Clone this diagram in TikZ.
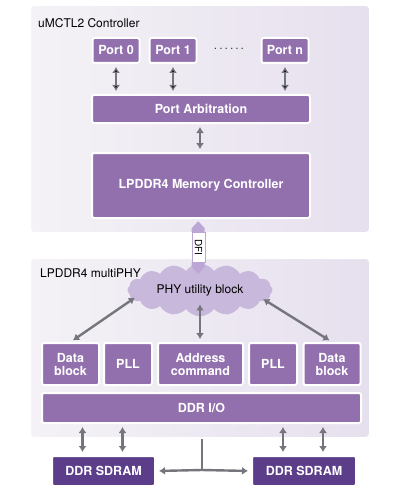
\documentclass[tikz,border=0pt]{standalone}
\usepackage{fontspec}
\setmainfont{TeX Gyre Heros}
\usetikzlibrary{arrows.meta}
\usetikzlibrary{shapes.symbols}
\usetikzlibrary{shadows}
\definecolor{blkpurple}{HTML}{9270AE}
\definecolor{darkpurple}{HTML}{5B3D8A}
\definecolor{panellight}{HTML}{F4F2F6}
\definecolor{paneldark}{HTML}{E6E0EE}
\definecolor{cloudfill}{HTML}{C8B8DC}
\definecolor{arrowgrey}{HTML}{75757D}
\definecolor{dfihead}{HTML}{BBA6D6}

\begin{document}
\begin{tikzpicture}[x=1pt,y=-1pt,
  panel/.style={draw=white,line width=2pt,left color=panellight,right color=paneldark,rounded corners=4pt,
    drop shadow={opacity=0.18,shadow xshift=0.8pt,shadow yshift=-0.8pt}},
  blk/.style={draw=white,line width=2pt,fill=blkpurple,rounded corners=2pt,text=white,
    font=\bfseries\fontsize{12.5}{13}\selectfont,align=center,inner sep=1pt,
    drop shadow={opacity=0.25,shadow xshift=0.8pt,shadow yshift=-0.8pt}},
  lbl/.style={font=\fontsize{12}{14}\selectfont,anchor=west,inner sep=0pt},
  bi/.style={draw=arrowgrey,line width=2.4pt,shorten <=3pt,shorten >=3pt,
    arrows={Latex[length=6pt,width=8pt]-Latex[length=6pt,width=8pt]}},
  one/.style={draw=arrowgrey,line width=2.4pt,shorten >=3pt,
    arrows={-Latex[length=6pt,width=8pt]}}]
  \useasboundingbox[fill=white] (0,0) rectangle (400,500);
  % controller
  \node[panel,minimum width=340,minimum height=228] (ctrl) at (200,119) {};
  \node[lbl] (ctrllbl) at (38,23) {uMCTL2 Controller};
  \node[blk,minimum width=47,minimum height=25] (port0) at (116,50.5) {Port 0};
  \node[blk,minimum width=47,minimum height=25] (port1) at (173,50.5) {Port 1};
  \node[text=black!75,font=\fontsize{12}{12}\selectfont] (dots) at (229,49) {.\,.\,.\,.\,.\,.};
  \node[blk,minimum width=47,minimum height=25] (portn) at (285,50.5) {Port n};
  \node[blk,minimum width=218,minimum height=28] (arb) at (201,109) {Port Arbitration};
  \node[blk,minimum width=218,minimum height=65] (mc) at (201,185.5) {LPDDR4 Memory Controller};
  \path[bi] (port0) edge (port0 |- arb.north)
            (port1) edge (port1 |- arb.north)
            (portn) edge (portn |- arb.north);
  \draw[bi] (arb.south -| 200,0) -- (mc.north -| 200,0);
  % multiPHY
  \node[panel,minimum width=340,minimum height=180] (phybox) at (200,348) {};
  \node[lbl] (phylbl) at (40,273) {LPDDR4 multiPHY};
  \node[cloud,cloud puffs=16,cloud puff arc=110,aspect=3,fill=cloudfill,minimum width=145,minimum height=48,
    inner sep=0pt,font=\fontsize{12}{14}\selectfont] (util) at (200,290) {PHY utility block};
  \node[blk,minimum width=57,minimum height=42] (data1) at (70.5,364) {Data\\block};
  \node[blk,minimum width=48,minimum height=42] (pll1) at (128,364) {PLL};
  \node[blk,minimum width=85,minimum height=42] (addr) at (200.5,364) {Address\\command};
  \node[blk,minimum width=48,minimum height=42] (pll2) at (273,364) {PLL};
  \node[blk,minimum width=57,minimum height=42] (data2) at (332,364) {Data\\block};
  \node[blk,minimum width=319,minimum height=30] (ddrio) at (201.5,408) {DDR I/O};
  \draw[bi] ([shift={(10,6)}]util.west) -- (data1.north);
  \draw[bi] ([shift={(0,-15)}]util.south) -- (util.south |- addr.north);
  \draw[bi] ([shift={(-12,7.5)}]util.east) -- (data2.north);
  % memories
  \node[blk,fill=darkpurple,minimum width=103,minimum height=30] (sdram1) at (103.5,471) {DDR SDRAM};
  \node[blk,fill=darkpurple,minimum width=104,minimum height=30] (sdram2) at (304,471) {DDR SDRAM};
  \draw[bi] ([xshift=-21pt]sdram1.north) -- ([xshift=-21pt]sdram1.north |- ddrio.south);
  \draw[bi] ([xshift=19pt]sdram1.north) -- ([xshift=19pt]sdram1.north |- ddrio.south);
  \draw[bi] ([xshift=-21pt]sdram2.north) -- ([xshift=-21pt]sdram2.north |- ddrio.south);
  \draw[bi] ([xshift=19pt]sdram2.north) -- ([xshift=19pt]sdram2.north |- ddrio.south);
  \coordinate (bus) at (202,470);
  \draw[draw=arrowgrey,line width=2.4pt] (phybox.south -| bus) -- (bus);
  \draw[one] (bus) -- (sdram1.east);
  \draw[one] (bus) -- (sdram2.west);
  % DFI link
  \node[rotate=-90,fill=white,draw=dfihead,line width=0.6pt,minimum width=30,minimum height=13,
    inner sep=0pt,font=\fontsize{10}{10}\selectfont] (dfi) at (198.5,247.5) {DFI};
  \fill[dfihead] (dfi.south west) -- ++(0,-4) -- ++(6.5,-7) -- ++(6.5,7) -- ++(0,4) -- cycle;
  \fill[dfihead] (dfi.south east) -- ++(0,4) -- ++(6.5,7) -- ++(6.5,-7) -- ++(0,-4) -- cycle;
\end{tikzpicture}
\end{document}
